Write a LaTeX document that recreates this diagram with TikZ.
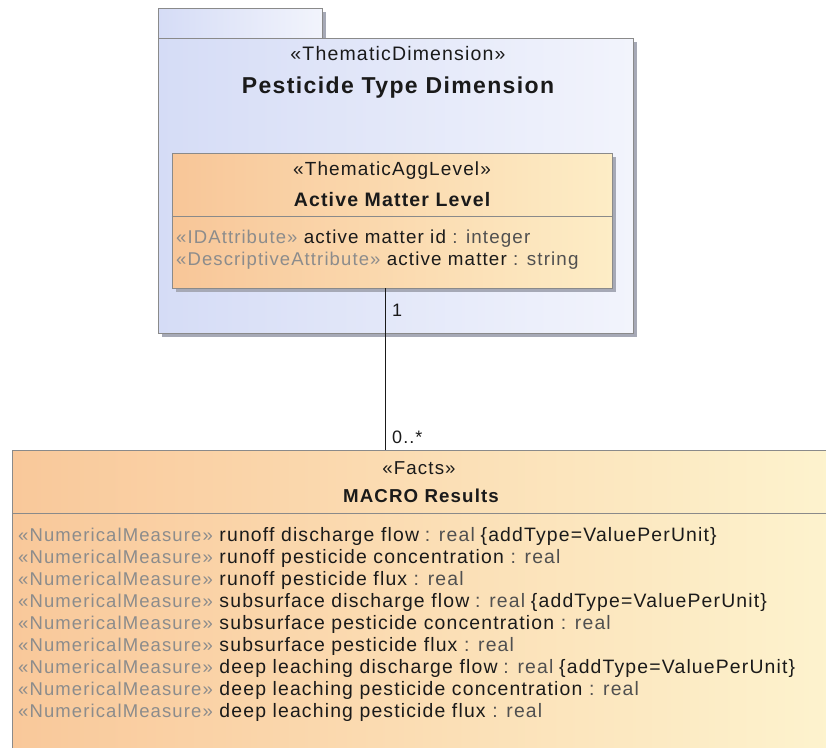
\documentclass[tikz,border=0pt]{standalone}
\usepackage{fontspec}
\setmainfont{Liberation Sans}[LetterSpace=6]
\definecolor{pkgL}{HTML}{D5DCF6}
\definecolor{pkgR}{HTML}{F2F4FC}
\definecolor{clsL}{HTML}{F8C698}
\definecolor{clsR}{HTML}{FDEDC6}
\definecolor{factL}{HTML}{F9C89A}
\definecolor{factR}{HTML}{FDF3CE}
\definecolor{edge}{HTML}{8A8A8A}
\definecolor{stereo}{HTML}{8C8C8C}
\definecolor{typec}{HTML}{505050}
\definecolor{ink}{HTML}{1A1A1A}
\definecolor{shadowc}{HTML}{A6A9B6}
\tikzset{
  pkgbox/.style={draw=edge, line width=0.8pt, left color=pkgL, right color=pkgR},
  clsbox/.style={draw=edge, line width=0.8pt, left color=clsL, right color=clsR},
  shade/.style={fill=shadowc},
  txt/.style={inner sep=0pt, text=ink},
  attr/.style={inner sep=0pt, anchor=base west, text=ink, font=\fontsize{18.8}{22}\selectfont},
  conn/.style={draw=ink, line width=0.8pt},
}
\newcommand{\gap}{\hspace{0.3em}}
\newcommand{\stq}[1]{{\fontsize{18.5}{22}\selectfont\textcolor{stereo}{#1}}}
\newcommand{\tyq}[1]{\textcolor{typec}{#1}}
\begin{document}
\begin{tikzpicture}[x=1pt,y=-1pt]
\useasboundingbox (0,0) rectangle (826,747);
\fill[white] (0,0) rectangle (826,747);
% package shadow
\fill[shade] (162,12) rectangle (326,42);
\fill[shade] (162,42) rectangle (637,337);
% package tab and body
\path[pkgbox] (158,8) rectangle (322,38);
\node[pkgbox, minimum width=475pt, minimum height=295pt, inner sep=0pt] (pkg) at (395.5,185.5) {};
\node[txt, font=\fontsize{19.5}{22}\selectfont] (pkgst) at (398,54) {«ThematicDimension»};
\node[txt, font=\fontsize{23}{26}\selectfont\bfseries] (pkgname) at (398,88) {Pesticide Type Dimension};
% class shadow
\fill[shade] (176,157) rectangle (616,292);
\node[clsbox, minimum width=440pt, minimum height=135pt, inner sep=0pt] (aml) at (392,220.5) {};
\draw[edge, line width=0.8pt] (aml.west |- 0,216) -- (aml.east |- 0,216);
\node[txt, font=\fontsize{19}{22}\selectfont] (amlst) at (392,171) {«ThematicAggLevel»};
\node[txt, font=\fontsize{19.5}{22}\selectfont\bfseries] (amlname) at (392,200) {Active Matter Level};
\node[attr] (a1) at (176,243) {\stq{«IDAttribute»} active matter id \tyq{: integer}};
\node[attr] (a2) at (176,265) {\stq{«DescriptiveAttribute»} active matter \tyq{: string}};
% facts box
\node[clsbox, left color=factL, right color=factR, minimum width=820pt, minimum height=320pt, inner sep=0pt, anchor=north west] (mr) at (12,450) {};
\draw[edge, line width=0.8pt] (12,513) -- (832,513);
\node[txt, font=\fontsize{18.7}{22}\selectfont] (mrst) at (419,468) {«Facts»};
\node[txt, font=\fontsize{18.7}{22}\selectfont\bfseries] (mrname) at (421,496) {MACRO Results};
\foreach \i/\t in {0/{runoff discharge flow\gap \tyq{: real}\gap \{addType=ValuePerUnit\}},
                   1/{runoff pesticide concentration \tyq{: real}},
                   2/{runoff pesticide flux \tyq{: real}},
                   3/{subsurface discharge flow\gap \tyq{: real}\gap \{addType=ValuePerUnit\}},
                   4/{subsurface pesticide concentration \tyq{: real}},
                   5/{subsurface pesticide flux \tyq{: real}},
                   6/{deep leaching discharge flow\gap \tyq{: real}\gap \{addType=ValuePerUnit\}},
                   7/{deep leaching pesticide concentration \tyq{: real}},
                   8/{deep leaching pesticide flux \tyq{: real}}}
  \node[attr, font=\fontsize{19.4}{22}\selectfont] (m\i) at (18,541+22*\i) {\stq{«NumericalMeasure»} \t};
% connector
\draw[conn] ([xshift=-7pt]aml.south) -- ([xshift=-7pt]aml.south |- mr.north);
\node[txt, font=\fontsize{18}{20}\selectfont, anchor=base west] (m1lbl) at (392,316) {1};
\node[txt, font=\fontsize{18}{20}\selectfont, anchor=base west] (m2lbl) at (392,443) {0..*};
\end{tikzpicture}
\end{document}
